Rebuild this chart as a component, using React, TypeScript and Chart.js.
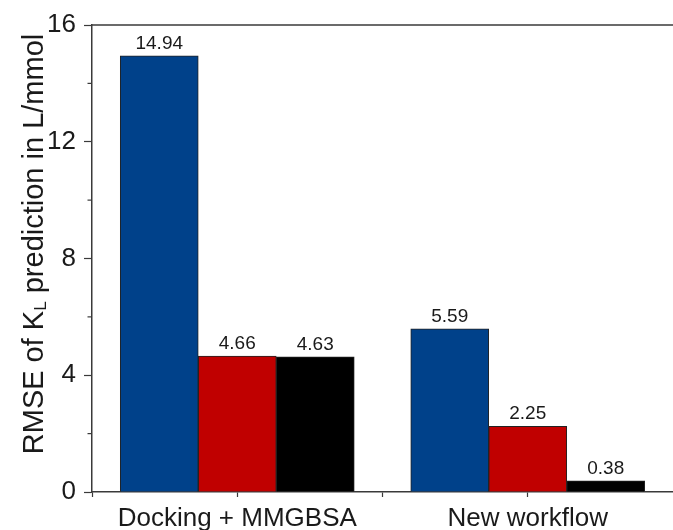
import { useEffect, useRef } from 'react';
import { Chart, registerables } from 'chart.js';

Chart.register(...registerables);

const categories = ['Docking + MMGBSA', 'New workflow'];
const seriesBlue = [14.94, 5.59];
const seriesRed = [4.66, 2.25];
const seriesBlack = [4.63, 0.38];
const seriesColors = ['#00418a', '#c00000', '#000000'];
const yTicks = [0, 4, 8, 12, 16];
const yMinorTicks = [2, 6, 10, 14];
const xTicks = [0, 1, 2, 3];
const categoryPositions = [1, 3];
const yTitleParts = ['RMSE of K', 'L', ' prediction in L/mmol'];

const FONT = '"Liberation Sans", Arial, Helvetica, sans-serif';
const TEXT = '#1a1a1a';
const AXIS = '#3a3a3a';

export default function App() {
  const ref = useRef<HTMLCanvasElement | null>(null);

  useEffect(() => {
    if (!ref.current) return;
    const mk = (vals: number[]) => vals.map((v, i) => ({ x: categoryPositions[i], y: v }));

    const valueLabels = {
      id: 'valueLabels',
      afterDatasetsDraw(chart: any) {
        const ctx = chart.ctx;
        ctx.save();
        ctx.font = `19px ${FONT}`;
        ctx.fillStyle = TEXT;
        ctx.textAlign = 'center';
        ctx.textBaseline = 'bottom';
        chart.data.datasets.forEach((ds: any, di: number) => {
          const meta = chart.getDatasetMeta(di);
          meta.data.forEach((el: any, i: number) => {
            ctx.fillText(ds.data[i].y.toFixed(2), el.x, el.y - 3);
          });
        });
        ctx.restore();
      },
    };

    const frame = {
      id: 'frame',
      afterDraw(chart: any) {
        const ctx = chart.ctx;
        const a = chart.chartArea;
        const ys = chart.scales.y;
        ctx.save();
        ctx.strokeStyle = AXIS;
        ctx.lineWidth = 1.5;
        ctx.beginPath();
        ctx.moveTo(a.left, a.top);
        ctx.lineTo(a.right, a.top);
        ctx.stroke();
        ctx.lineWidth = 1.2;
        yMinorTicks.forEach((v) => {
          const y = ys.getPixelForValue(v);
          ctx.beginPath();
          ctx.moveTo(a.left - 4.5, y);
          ctx.lineTo(a.left, y);
          ctx.stroke();
        });
        ctx.restore();
      },
    };

    const yTitle = {
      id: 'yTitle',
      afterDraw(chart: any) {
        const ctx = chart.ctx;
        const big = `29px ${FONT}`;
        const small = `17px ${FONT}`;
        ctx.save();
        ctx.fillStyle = TEXT;
        ctx.textBaseline = 'alphabetic';
        ctx.textAlign = 'left';
        const fonts = [big, small, big];
        const widths = yTitleParts.map((t, i) => {
          ctx.font = fonts[i];
          return ctx.measureText(t).width;
        });
        const total = widths.reduce((s, w) => s + w, 0);
        ctx.translate(43, 244);
        ctx.rotate(-Math.PI / 2);
        let x = -total / 2;
        yTitleParts.forEach((t, i) => {
          ctx.font = fonts[i];
          ctx.fillText(t, x, i === 1 ? 3 : 0);
          x += widths[i];
        });
        ctx.restore();
      },
    };

    const chart = new Chart(ref.current, {
      type: 'bar',
      data: {
        datasets: [
          { label: 'A', data: mk(seriesBlue), backgroundColor: seriesColors[0] },
          { label: 'B', data: mk(seriesRed), backgroundColor: seriesColors[1] },
          { label: 'C', data: mk(seriesBlack), backgroundColor: seriesColors[2] },
        ].map((d) => ({ ...d, borderColor: '#222', borderWidth: 1, barThickness: 78 })),
      },
      options: {
        responsive: false,
        animation: false,
        layout: { padding: { top: 25, left: 0, right: 0, bottom: 0 } },
        plugins: { legend: { display: false }, tooltip: { enabled: false } },
        scales: {
          x: {
            type: 'linear',
            offset: false,
            min: 0,
            max: 4,
            afterBuildTicks: (s: any) => {
              s.ticks = xTicks.map((v) => ({ value: v }));
            },
            afterFit: (s: any) => {
              s.height = 38;
              s.paddingRight = 0;
              s.paddingLeft = 0;
            },
            ticks: {
              autoSkip: false,
              maxRotation: 0,
              minRotation: 0,
              padding: 6,
              color: TEXT,
              font: { family: FONT, size: 26 },
              callback: (v: any) => {
                const i = categoryPositions.indexOf(Number(v));
                return i >= 0 ? categories[i] : '';
              },
            },
            grid: { offset: false, drawOnChartArea: false, drawTicks: true, tickLength: 5, color: AXIS, tickWidth: 1.2 },
            border: { display: true, color: AXIS, width: 1.5 },
          },
          y: {
            min: 0,
            max: 16,
            afterBuildTicks: (s: any) => {
              s.ticks = yTicks.map((v) => ({ value: v }));
            },
            afterFit: (s: any) => {
              s.width = 92;
            },
            ticks: {
              padding: 8,
              color: TEXT,
              font: { family: FONT, size: 26 },
            },
            grid: { drawOnChartArea: false, drawTicks: true, tickLength: 8, color: AXIS, tickWidth: 1.2 },
            border: { display: true, color: AXIS, width: 1.5 },
          },
        },
      },
      plugins: [valueLabels, frame, yTitle],
    });
    return () => chart.destroy();
  }, []);

  return (
    <div style={{ position: 'fixed', left: 0, top: 0, width: 673, height: 530, background: '#fff' }}>
      <canvas ref={ref} width={673} height={530} style={{ display: 'block' }} />
    </div>
  );
}
